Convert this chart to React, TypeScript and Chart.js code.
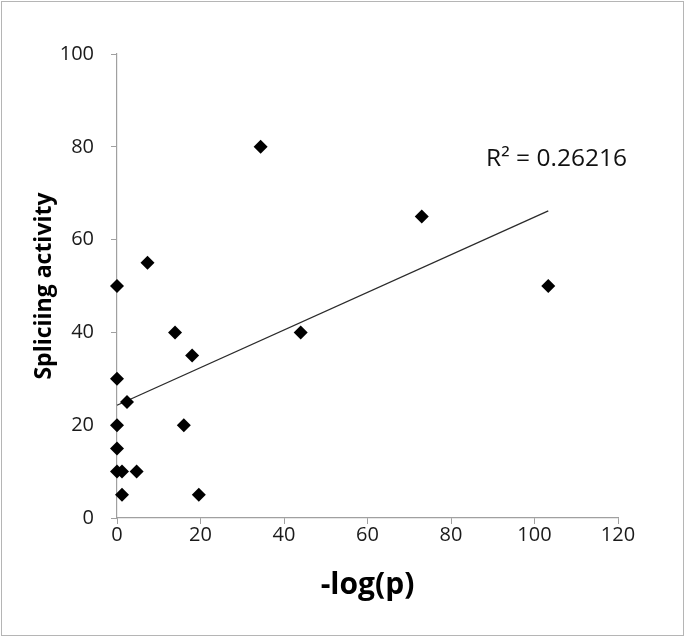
import React, { useEffect, useRef } from "react";
import { Chart, registerables } from "chart.js";

Chart.register(...registerables);

// ---- data ----
const xValues = [0, 0, 0, 0, 0, 1.2, 4.7, 1.2, 2.4, 7.3, 13.9, 16.0, 18.0, 19.6, 34.4, 44.0, 73.0, 103.3];
const yValues = [50, 30, 20, 15, 10, 10, 10, 5, 25, 55, 40, 20, 35, 5, 80, 40, 65, 50];
const trendX = [0, 103.3];
const trendY = [24.3, 66.2];
const xTicks = [0, 20, 40, 60, 80, 100, 120];
const yTicks = [0, 20, 40, 60, 80, 100];
const xTitle = "-log(p)";
const yTitle = "Spliciing activity";
const r2Text = "R\u00B2 = 0.26216";
const r2Anchor = { x: 88.4, y: 77.3 }; // in data units

const FONT = '"Open Sans", "DejaVu Sans", sans-serif';

export default function App() {
  const canvasRef = useRef<HTMLCanvasElement | null>(null);

  useEffect(() => {
    document.body.style.margin = "0";
    const canvas = canvasRef.current;
    if (!canvas) return;

    const r2Plugin = {
      id: "r2Label",
      afterDatasetsDraw(chart: any) {
        const { ctx, scales } = chart;
        ctx.save();
        ctx.font = `24.5px ${FONT}`;
        ctx.fillStyle = "#111";
        ctx.textAlign = "left";
        ctx.textBaseline = "middle";
        ctx.fillText(r2Text, scales.x.getPixelForValue(r2Anchor.x), scales.y.getPixelForValue(r2Anchor.y));
        ctx.restore();
      },
    };

    const chart = new Chart(canvas, {
      type: "scatter",
      data: {
        datasets: [
          {
            label: "points",
            data: xValues.map((x, i) => ({ x, y: yValues[i] })),
            pointStyle: "rectRot",
            pointRadius: 7,
            backgroundColor: "#000",
            borderColor: "#000",
            borderWidth: 0,
            showLine: false,
            clip: false,
          },
          {
            label: "trend",
            data: trendX.map((x, i) => ({ x, y: trendY[i] })),
            showLine: true,
            pointRadius: 0,
            borderColor: "#2a2a2a",
            borderWidth: 1.3,
            fill: false,
            clip: false,
          },
        ],
      },
      options: {
        animation: false,
        responsive: false,
        devicePixelRatio: 1,
        layout: { padding: { top: 54, right: 67, bottom: 0, left: 0 } },
        plugins: { legend: { display: false }, tooltip: { enabled: false } },
        scales: {
          x: {
            type: "linear",
            min: xTicks[0],
            max: xTicks[xTicks.length - 1],
            afterBuildTicks: (s: any) => {
              s.ticks = xTicks.map((v) => ({ value: v }));
            },
            afterFit: (s: any) => {
              s.height = 119;
            },
            ticks: { font: { family: FONT, size: 20 }, color: "#1a1a1a", padding: -1 },
            grid: { drawOnChartArea: false, drawTicks: true, tickLength: 6, color: "#a0a0a0", lineWidth: 1 },
            border: { display: true, color: "#a0a0a0", width: 1.2 },
            title: {
              display: true,
              text: xTitle,
              font: { family: FONT, size: 30, weight: "bold" },
              color: "#000",
              padding: { top: 0, bottom: 34 },
            },
          },
          y: {
            type: "linear",
            min: yTicks[0],
            max: yTicks[yTicks.length - 1],
            afterBuildTicks: (s: any) => {
              s.ticks = yTicks.map((v) => ({ value: v }));
            },
            afterFit: (s: any) => {
              s.width = 117;
            },
            ticks: { font: { family: FONT, size: 20 }, color: "#1a1a1a", padding: 17 },
            grid: { drawOnChartArea: false, drawTicks: true, tickLength: 6, color: "#a0a0a0", lineWidth: 1 },
            border: { display: true, color: "#a0a0a0", width: 1.2 },
            title: {
              display: true,
              text: yTitle,
              font: { family: FONT, size: 23, weight: "bold" },
              color: "#000",
              padding: { top: 31, bottom: 0 },
            },
          },
        },
      },
      plugins: [r2Plugin],
    } as any);

    return () => chart.destroy();
  }, []);

  return (
    <div style={{ position: "relative", width: 685, height: 637, background: "#fff" }}>
      <canvas ref={canvasRef} width={685} height={637} style={{ display: "block", width: 685, height: 637 }} />
      <div
        style={{
          position: "absolute",
          left: 1,
          top: 1,
          width: 681,
          height: 633,
          border: "1px solid #b5b5b5",
          pointerEvents: "none",
        }}
      />
    </div>
  );
}
